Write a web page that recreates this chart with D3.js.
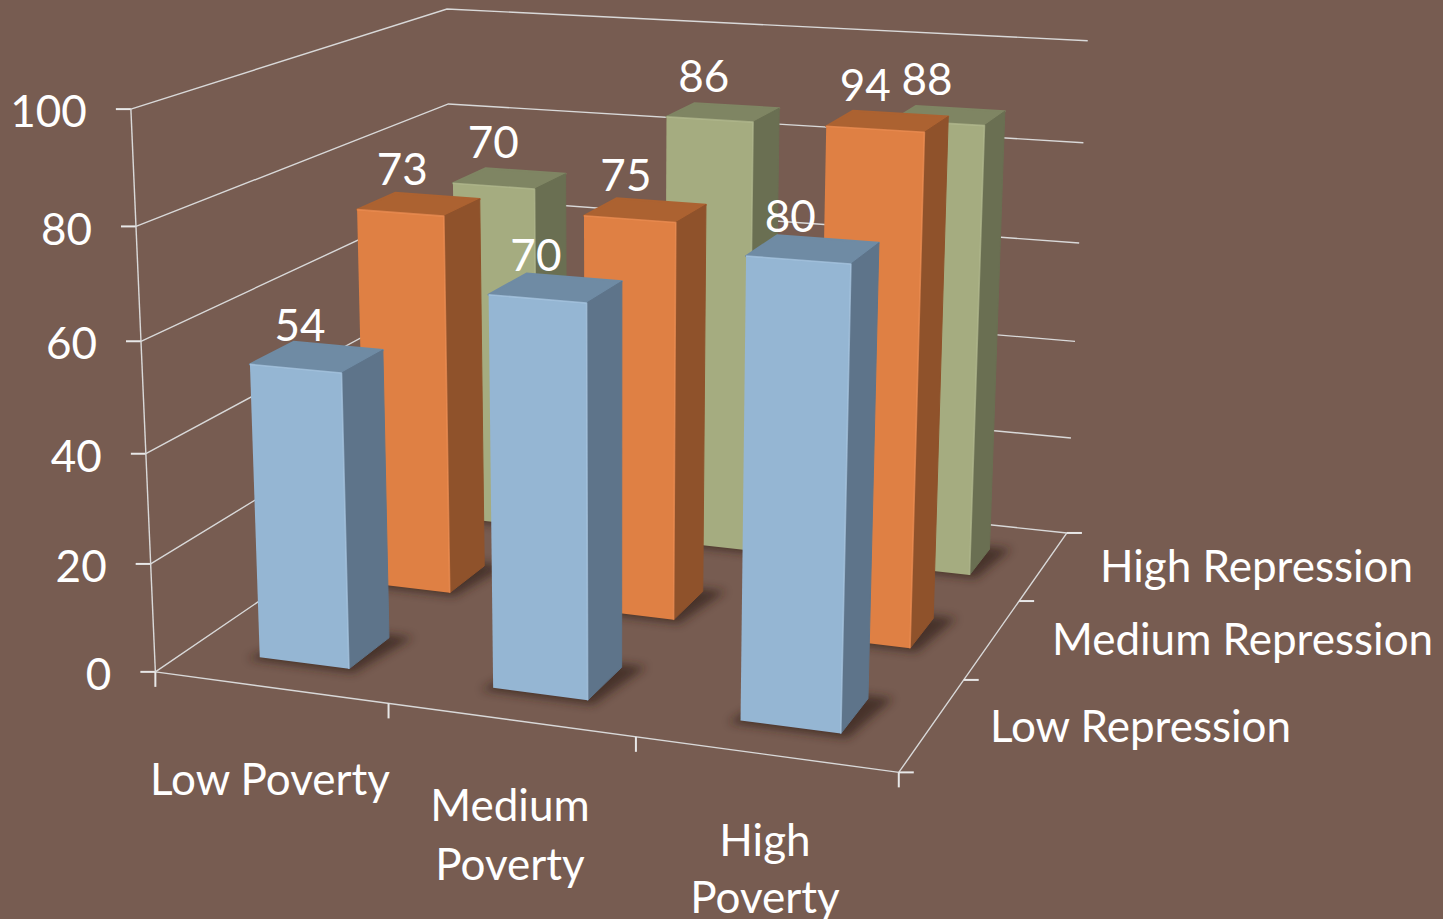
<!DOCTYPE html>
<html>
<head>
<meta charset="utf-8">
<title>Poverty and repression</title>
<script src="https://cdnjs.cloudflare.com/ajax/libs/d3/7.8.5/d3.min.js"></script>
<style>
    html, body { margin: 0; padding: 0; background: #775c51; }
    svg { display: block; }
    text { font-family: Lato, "Open Sans", sans-serif; fill: #fff; font-size: 44px; }
</style>
</head>
<body>
<svg width="1443" height="919"></svg>
<script>
const povertyLevels = ["Low Poverty", "Medium Poverty", "High Poverty"];
const repressionLevels = ["Low Repression", "Medium Repression", "High Repression"];
const lowRepression = [54, 70, 80];
const mediumRepression = [73, 75, 94];
const highRepression = [70, 86, 88];
const valueTicks = [0, 20, 40, 60, 80, 100];

const seriesValues = [lowRepression, mediumRepression, highRepression];
const faceColors = [
    {front: "#95b6d3", side: "#5e748a", top: "#6f8ba4", edge: "#a9c8e2"},
    {front: "#df8044", side: "#8f522b", top: "#ac6231", edge: "#ef9056"},
    {front: "#a5ac80", side: "#6a6f52", top: "#7f8563", edge: "#b4bb90"}
];

const svg = d3.select("svg");
const defs = svg.append("defs");
defs.append("filter").attr("id", "soft")
    .attr("x", "-30%").attr("y", "-30%").attr("width", "160%").attr("height", "160%")
    .append("feGaussianBlur").attr("stdDeviation", 5);

// world scales, box is 0..1 on each axis
const xBand = d3.scaleBand().domain(povertyLevels).range([0, 1])
    .paddingInner(0.611).paddingOuter(0.3025).align(0.505);
const depthBand = d3.scaleBand().domain(repressionLevels).range([0, 1])
    .paddingInner(0.611).paddingOuter(0.3255).align(0.453);
const zScale = d3.scaleLinear().domain([0, 100]).range([0, 1]);
// back rows sit a touch further right than the plain camera puts them
const rowLean = d3.scaleLinear().domain([0, 1]).range([0, 0.011]);

// where the corners of the box sit in the picture, used to fit the camera
const calibration = [
    [0, 0, 0, 155, 672], [1, 0, 0, 899, 772], [1, 1, 0, 1067, 533], [0, 1, 0, 454, 468],
    [0, 0, 1, 131, 109], [0, 1, 1, 447, 9], [1, 1, 1, 1088, 40],
    [0, 0, 0.6, 141, 341], [0, 0, 0.8, 136, 227],
    [1, 1, 0.8, 1083, 143], [1, 1, 0.6, 1079, 243], [1, 1, 0.4, 1075, 342], [1, 1, 0.2, 1071, 438]
];

function fitCamera(points) {
    // least squares for the 11 free terms of a 3x4 projection
    const rows = [];
    points.forEach(([u, v, w, px, py]) => {
        rows.push([u, v, w, 1, 0, 0, 0, 0, -px * u, -px * v, -px * w, px]);
        rows.push([0, 0, 0, 0, u, v, w, 1, -py * u, -py * v, -py * w, py]);
    });
    const n = 11;
    const a = d3.range(n).map(i => d3.range(n + 1).map(j => d3.sum(rows, r => r[i] * r[j])));
    for (let i = 0; i < n; i++) {
        let best = i;
        for (let k = i + 1; k < n; k++) if (Math.abs(a[k][i]) > Math.abs(a[best][i])) best = k;
        [a[i], a[best]] = [a[best], a[i]];
        for (let k = 0; k < n; k++) {
            if (k === i) continue;
            const f = a[k][i] / a[i][i];
            for (let j = i; j <= n; j++) a[k][j] -= f * a[i][j];
        }
    }
    return a.map((r, i) => r[n] / r[i]);
}

const cam = fitCamera(calibration);
function project(u, v, w) {
    const d = cam[8] * u + cam[9] * v + cam[10] * w + 1;
    return [
        (cam[0] * u + cam[1] * v + cam[2] * w + cam[3]) / d,
        (cam[4] * u + cam[5] * v + cam[6] * w + cam[7]) / d
    ];
}

const line = d3.line();
function poly(g, pts, fill) {
    return g.append("path").attr("d", line(pts) + "Z").attr("fill", fill);
}
function gridLine(pts) {
    svg.append("path").attr("d", line(pts)).attr("fill", "none")
        .attr("stroke", "#d9d9d9").attr("stroke-width", 1.4);
}
function tick(x1, y1, x2, y2) {
    svg.append("line").attr("x1", x1).attr("y1", y1).attr("x2", x2).attr("y2", y2)
        .attr("stroke", "#e8e8e8").attr("stroke-width", 2);
}

// walls and floor
valueTicks.forEach(t => {
    const w = zScale(t);
    gridLine([project(0, 0, w), project(0, 1, w), project(1, 1, w)]);
    const p = project(0, 0, w);
    tick(p[0] - 15, p[1], p[0], p[1]);
    svg.append("text").attr("x", p[0] - 44).attr("y", p[1] + 7)
        .attr("text-anchor", "end").attr("dominant-baseline", "middle").text(t);
});
gridLine([project(0, 0, 0), project(1, 0, 0), project(1, 1, 0)]);
gridLine([project(0, 0, 0), project(0, 0, 1)]);

d3.range(4).forEach(i => {
    const p = project(i / 3, 0, 0);
    tick(p[0], p[1], p[0], p[1] + 15);
    const q = project(1, i / 3, 0);
    tick(q[0], q[1], q[0] + 15, q[1]);
});

// bars, back row first
const barsLayer = svg.append("g");
d3.range(2, -1, -1).forEach(r => {
    povertyLevels.forEach((cat, c) => {
        const value = seriesValues[r][c];
        const d0 = depthBand(repressionLevels[r]), d1 = d0 + depthBand.bandwidth();
        const x0 = xBand(cat) + rowLean(d0), x1 = x0 + xBand.bandwidth();
        const top = zScale(value);
        const col = faceColors[r];
        const g = barsLayer.append("g");

        // soft shadow on the floor
        poly(g, [project(x0 - 0.012, d0 - 0.012, 0), project(x1 + 0.012, d0 - 0.012, 0),
                 project(x1 + 0.03, d1 + 0.012, 0), project(x0 + 0.02, d1 + 0.012, 0)], "#2e1f19")
            .attr("opacity", 0.65).attr("filter", "url(#soft)");

        poly(g, [project(x0, d0, top), project(x1, d0, top), project(x1, d1, top), project(x0, d1, top)], col.top)
            .attr("stroke", col.top).attr("stroke-width", 2).attr("stroke-linejoin", "round");
        poly(g, [project(x1, d0, 0), project(x1, d1, 0), project(x1, d1, top), project(x1, d0, top)], col.side)
            .attr("stroke", col.side).attr("stroke-width", 1).attr("stroke-linejoin", "round");
        poly(g, [project(x0, d0, 0), project(x1, d0, 0), project(x1, d0, top), project(x0, d0, top)], col.front);

        // light bevel along the top and right of the front face
        g.append("path")
            .attr("d", line([project(x0, d0, top), project(x1, d0, top), project(x1, d0, 0)]))
            .attr("fill", "none").attr("stroke", col.edge).attr("stroke-width", 1.6)
            .attr("stroke-opacity", 0.7).attr("stroke-linejoin", "round");

        // labels lean slightly towards the middle of the chart
        const [lx, ly] = project((x0 + x1) / 2, d0, top);
        g.append("text").attr("x", lx + (600 - lx) * 0.025 - 3).attr("y", ly - 39)
            .attr("text-anchor", "middle").attr("dominant-baseline", "middle").text(value);
    });
});

// category labels sit under the axes, wrapped the way the slide wraps them
const povertyLabelLayout = [
    {cx: 270, lines: [[784, "Low Poverty"]]},
    {cx: 510, lines: [[810, "Medium"], [869, "Poverty"]]},
    {cx: 765, lines: [[845, "High"], [902, "Poverty"]]}
];
povertyLabelLayout.forEach(l => l.lines.forEach(([y, str]) => {
    svg.append("text").attr("x", l.cx).attr("y", y)
        .attr("text-anchor", "middle").attr("dominant-baseline", "middle").text(str);
}));

const repressionLabelLayout = [[990, 731], [1052, 644], [1100, 571]];
repressionLevels.forEach((name, i) => {
    svg.append("text").attr("x", repressionLabelLayout[i][0]).attr("y", repressionLabelLayout[i][1])
        .attr("dominant-baseline", "middle").text(name);
});
</script>
</body>
</html>
